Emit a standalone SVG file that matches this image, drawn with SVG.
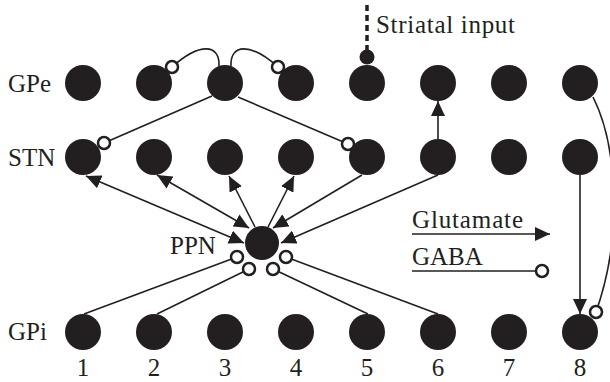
<svg xmlns="http://www.w3.org/2000/svg" width="610" height="382" viewBox="0 0 610 382">
<defs>
<marker id="arr" viewBox="0 0 15 14" refX="15" refY="7" markerWidth="15" markerHeight="14" markerUnits="userSpaceOnUse" orient="auto-start-reverse"><path d="M0,0 L15,7 L0,14 z" fill="#231f20"/></marker>
</defs>
<style>
.n{fill:#231f20}
.t{font-family:"Liberation Serif","Times New Roman",serif;font-size:25px;fill:#231f20}
.m{text-anchor:middle}
.c{stroke:#231f20;stroke-width:1.6;fill:none}
.o{fill:#fff;stroke:#231f20;stroke-width:2.5}
</style>
<rect width="610" height="382" fill="#fff"/>
<g id="labels">
<text class="t" x="8" y="92">GPe</text>
<text class="t" x="8" y="166">STN</text>
<text class="t" x="170" y="254">PPN</text>
<text class="t" x="8" y="340">GPi</text>
<text class="t m" x="83" y="376">1</text>
<text class="t m" x="154" y="376">2</text>
<text class="t m" x="225" y="376">3</text>
<text class="t m" x="296" y="376">4</text>
<text class="t m" x="367" y="376">5</text>
<text class="t m" x="438" y="376">6</text>
<text class="t m" x="509" y="376">7</text>
<text class="t m" x="580" y="376">8</text>
</g>
<g id="gpe">
<g id="gpe1"><circle class="n" cx="83" cy="83" r="18"/></g>
<g id="gpe2"><circle class="n" cx="154" cy="83" r="18"/></g>
<g id="gpe3"><circle class="n" cx="225" cy="83" r="18"/></g>
<g id="gpe4"><circle class="n" cx="296" cy="83" r="18"/></g>
<g id="gpe5"><circle class="n" cx="367" cy="83" r="18"/></g>
<g id="gpe6"><circle class="n" cx="438" cy="83" r="18"/></g>
<g id="gpe7"><circle class="n" cx="509" cy="83" r="18"/></g>
<g id="gpe8"><circle class="n" cx="580" cy="83" r="18"/></g>
</g>
<g id="stn">
<g id="stn1"><circle class="n" cx="83" cy="157" r="18"/></g>
<g id="stn2"><circle class="n" cx="154" cy="157" r="18"/></g>
<g id="stn3"><circle class="n" cx="225" cy="157" r="18"/></g>
<g id="stn4"><circle class="n" cx="296" cy="157" r="18"/></g>
<g id="stn5"><circle class="n" cx="367" cy="157" r="18"/></g>
<g id="stn6"><circle class="n" cx="438" cy="157" r="18"/></g>
<g id="stn7"><circle class="n" cx="509" cy="157" r="18"/></g>
<g id="stn8"><circle class="n" cx="580" cy="157" r="18"/></g>
</g>
<g id="ppn"><circle class="n" cx="262" cy="243" r="17"/></g>
<g id="gpi">
<g id="gpi1"><circle class="n" cx="83" cy="332" r="18"/></g>
<g id="gpi2"><circle class="n" cx="154" cy="332" r="18"/></g>
<g id="gpi3"><circle class="n" cx="225" cy="332" r="18"/></g>
<g id="gpi4"><circle class="n" cx="296" cy="332" r="18"/></g>
<g id="gpi5"><circle class="n" cx="367" cy="332" r="18"/></g>
<g id="gpi6"><circle class="n" cx="438" cy="332" r="18"/></g>
<g id="gpi7"><circle class="n" cx="509" cy="332" r="18"/></g>
<g id="gpi8"><circle class="n" cx="580" cy="332" r="18"/></g>
</g>
<g id="striatal">
<path d="M367 5 L367 50" stroke="#231f20" stroke-width="3.5" stroke-dasharray="6 4" fill="none"/>
<circle class="n" cx="367" cy="57" r="7.5"/>
<text class="t" x="376" y="33" textLength="139">Striatal input</text>
</g>
<g id="connectors">
<path class="c" d="M212 96 L104 143"/>
<path class="c" d="M238 97 L348 144"/>
<path class="c" d="M219 66 C220 44 200 42 172 67"/>
<path class="c" d="M231 66 C230 44 250 42 278 67"/>
<path class="c" d="M438 139 L438 101" stroke-width="1" marker-end="url(#arr)"/>
<path class="c" d="M580 175 L580 314" marker-end="url(#arr)"/>
<path class="c" d="M593 97 C615 140 625 230 596 312"/>
<path class="c" d="M86 176 L244 243" marker-start="url(#arr)" marker-end="url(#arr)"/>
<path class="c" d="M157 175 L249 228" marker-start="url(#arr)" marker-end="url(#arr)"/>
<path class="c" d="M255 227 L229 176" marker-end="url(#arr)"/>
<path class="c" d="M268 227 L294 176" marker-end="url(#arr)"/>
<path class="c" d="M362 175 L273 228" marker-end="url(#arr)"/>
<path class="c" d="M438 175 L281 243" marker-end="url(#arr)"/>
<path class="c" d="M84 314 L237 257"/>
<path class="c" d="M157 314 L249 269"/>
<path class="c" d="M368 314 L273 269"/>
<path class="c" d="M438 314 L286 257"/>
<circle class="o" cx="172" cy="67" r="6"/>
<circle class="o" cx="278" cy="67" r="6"/>
<circle class="o" cx="104" cy="143" r="6"/>
<circle class="o" cx="348" cy="144" r="6"/>
<circle class="o" cx="596" cy="312" r="6"/>
<circle class="o" cx="237" cy="257" r="6"/>
<circle class="o" cx="249" cy="269" r="6"/>
<circle class="o" cx="273" cy="269" r="6"/>
<circle class="o" cx="286" cy="257" r="6"/>
</g>
<g id="legend">
<text class="t" x="412" y="228" textLength="111">Glutamate</text>
<path class="c" d="M412 234 L550 234" marker-end="url(#arr)"/>
<text class="t" x="412" y="265">GABA</text>
<path class="c" d="M412 271 L536 271"/>
<circle class="o" cx="542" cy="271" r="6"/>
</g>
</svg>
